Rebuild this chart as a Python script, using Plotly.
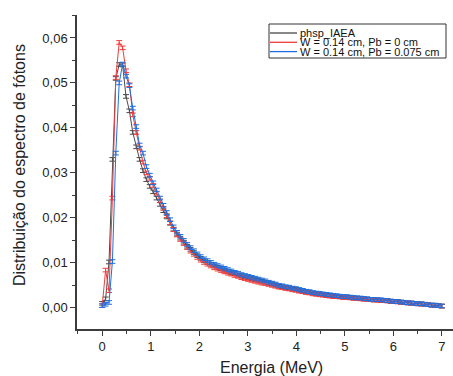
import plotly.graph_objects as go

# Energy bins (MeV)
energia = [0.00, 0.07, 0.14, 0.21, 0.28, 0.35, 0.42, 0.49, 0.56, 0.63,
           0.70, 0.77, 0.84, 0.91, 0.98, 1.05, 1.12, 1.19, 1.26, 1.33,
           1.40, 1.47, 1.54, 1.61, 1.68, 1.75, 1.82, 1.89, 1.96, 2.03,
           2.10, 2.17, 2.24, 2.31, 2.38, 2.45, 2.52, 2.59, 2.66, 2.73,
           2.80, 2.87, 2.94, 3.01, 3.08, 3.15, 3.22, 3.29, 3.36, 3.43,
           3.50, 3.57, 3.64, 3.71, 3.78, 3.85, 3.92, 3.99, 4.06, 4.13,
           4.20, 4.27, 4.34, 4.41, 4.48, 4.55, 4.62, 4.69, 4.76, 4.83,
           4.90, 4.97, 5.04, 5.11, 5.18, 5.25, 5.32, 5.39, 5.46, 5.53,
           5.60, 5.67, 5.74, 5.81, 5.88, 5.95, 6.02, 6.09, 6.16, 6.23,
           6.30, 6.37, 6.44, 6.51, 6.58, 6.65, 6.72, 6.79, 6.86, 6.93,
           7.00]

phsp_iaea = [0.0010, 0.0020, 0.0102, 0.0330, 0.0510, 0.0541, 0.0540, 0.0470, 0.0438, 0.0390,
             0.0358, 0.0330, 0.0305, 0.0285, 0.0270, 0.0258, 0.0244, 0.0230, 0.0216, 0.0202,
             0.0188, 0.0175, 0.0164, 0.0155, 0.0146, 0.0137, 0.0130, 0.0123, 0.0116, 0.0110,
             0.0105, 0.0101, 0.0097, 0.0093, 0.0090, 0.0087, 0.0084, 0.0081, 0.0078, 0.0076,
             0.0073, 0.0071, 0.0069, 0.0067, 0.0065, 0.0063, 0.0061, 0.0059, 0.0057, 0.0055,
             0.0053, 0.0051, 0.0048, 0.0047, 0.0045, 0.0044, 0.0042, 0.0041, 0.0039, 0.0038,
             0.0036, 0.0035, 0.0033, 0.0032, 0.0031, 0.0030, 0.0029, 0.0028, 0.0027, 0.0026,
             0.0025, 0.0024, 0.0024, 0.0023, 0.0022, 0.0022, 0.0021, 0.0020, 0.0020, 0.0019,
             0.0018, 0.0018, 0.0017, 0.0016, 0.0016, 0.0015, 0.0014, 0.0014, 0.0013, 0.0012,
             0.0011, 0.0011, 0.0010, 0.0009, 0.0009, 0.0008, 0.0007, 0.0006, 0.0006, 0.0005,
             0.0004]

w_pb0 = [0.0005, 0.0084, 0.0038, 0.0244, 0.0512, 0.0590, 0.0578, 0.0527, 0.0496, 0.0429,
         0.0390, 0.0355, 0.0324, 0.0300, 0.0288, 0.0272, 0.0255, 0.0238, 0.0221, 0.0205,
         0.0189, 0.0174, 0.0162, 0.0152, 0.0143, 0.0134, 0.0126, 0.0119, 0.0112, 0.0106,
         0.0101, 0.0097, 0.0093, 0.0089, 0.0086, 0.0083, 0.0080, 0.0077, 0.0075, 0.0072,
         0.0070, 0.0067, 0.0065, 0.0063, 0.0061, 0.0059, 0.0057, 0.0055, 0.0054, 0.0052,
         0.0050, 0.0048, 0.0046, 0.0045, 0.0043, 0.0042, 0.0040, 0.0039, 0.0037, 0.0036,
         0.0034, 0.0033, 0.0031, 0.0030, 0.0029, 0.0028, 0.0027, 0.0026, 0.0025, 0.0025,
         0.0024, 0.0023, 0.0023, 0.0022, 0.0021, 0.0021, 0.0020, 0.0019, 0.0019, 0.0018,
         0.0017, 0.0017, 0.0016, 0.0016, 0.0015, 0.0014, 0.0014, 0.0013, 0.0012, 0.0012,
         0.0011, 0.0010, 0.0010, 0.0009, 0.0008, 0.0008, 0.0007, 0.0006, 0.0005, 0.0005,
         0.0004]

w_pb0075 = [0.0005, 0.0008, 0.0012, 0.0103, 0.0344, 0.0500, 0.0542, 0.0515, 0.0494, 0.0444,
            0.0403, 0.0362, 0.0344, 0.0314, 0.0295, 0.0278, 0.0262, 0.0244, 0.0228, 0.0212,
            0.0196, 0.0180, 0.0168, 0.0159, 0.0150, 0.0141, 0.0134, 0.0127, 0.0120, 0.0114,
            0.0109, 0.0105, 0.0101, 0.0097, 0.0094, 0.0091, 0.0088, 0.0085, 0.0082, 0.0079,
            0.0077, 0.0074, 0.0072, 0.0070, 0.0068, 0.0066, 0.0064, 0.0062, 0.0060, 0.0057,
            0.0055, 0.0053, 0.0050, 0.0049, 0.0047, 0.0046, 0.0044, 0.0043, 0.0041, 0.0039,
            0.0037, 0.0036, 0.0034, 0.0033, 0.0032, 0.0031, 0.0030, 0.0029, 0.0028, 0.0027,
            0.0026, 0.0025, 0.0025, 0.0024, 0.0023, 0.0022, 0.0022, 0.0021, 0.0020, 0.0019,
            0.0019, 0.0018, 0.0018, 0.0017, 0.0016, 0.0015, 0.0014, 0.0014, 0.0013, 0.0012,
            0.0011, 0.0011, 0.0010, 0.0009, 0.0009, 0.0008, 0.0007, 0.0006, 0.0006, 0.0005,
            0.0004]

erro = 0.0004  # error bar half-size

series_names = ["phsp_IAEA", "W = 0.14 cm, Pb = 0 cm", "W = 0.14 cm, Pb = 0.075 cm"]
series_vals = [phsp_iaea, w_pb0, w_pb0075]
series_colors = ["#4a4a4a", "#F03C3C", "#1F6FE0"]

x_title = "Energia (MeV)"
y_title = "Distribuição do espectro de fótons"

FONT = "Liberation Sans, Arial, sans-serif"
W, H = 453, 376
ML, MR, MT, MB = 77, 0, 15, 47
PW, PH = W - ML - MR, H - MT - MB

def px(x):
    return (x - ML) / PW

def py(y):
    return (H - MB - y) / PH

fig = go.Figure()
for name, vals, col in zip(series_names, series_vals, series_colors):
    fig.add_trace(go.Scatter(
        x=energia, y=vals, name=name, mode="lines",
        line=dict(color=col, width=1),
        error_y=dict(type="constant", value=erro, color=col, thickness=1, width=3),
        showlegend=False,
    ))

axis_col = "#3c3c3c"
fig.update_xaxes(
    range=[-0.52, 7.23], tickmode="linear", tick0=0, dtick=1, automargin=False,
    ticks="outside", ticklen=5, tickwidth=1.2, tickcolor=axis_col,
    showline=True, linecolor=axis_col, linewidth=1.5, showgrid=False, zeroline=False,
    minor=dict(tick0=0, dtick=0.5, ticks="outside", ticklen=3, tickcolor=axis_col, tickwidth=1.2),
    tickfont=dict(family=FONT, size=13, color="#222"),
)
fig.update_yaxes(
    range=[-0.0047, 0.0651], tickmode="linear", tick0=0, dtick=0.01, tickformat=".2f",
    automargin=False,
    ticks="outside", ticklen=5, tickwidth=1.2, tickcolor=axis_col,
    showline=True, linecolor=axis_col, linewidth=1.5, showgrid=False, zeroline=False,
    minor=dict(tick0=0, dtick=0.005, ticks="outside", ticklen=3, tickcolor=axis_col, tickwidth=1.2),
    tickfont=dict(family=FONT, size=13, color="#222"),
)

# compact legend box (Origin style)
shapes = [dict(type="rect", xref="paper", yref="paper",
               x0=px(269), x1=px(446), y0=py(58), y1=py(24),
               line=dict(color="#333", width=1), fillcolor="white", layer="above")]
annotations = []
rows = [33.0, 42.3, 51.6]
for name, col, ry in zip(series_names, series_colors, rows):
    shapes.append(dict(type="line", xref="paper", yref="paper",
                       x0=px(270), x1=px(297), y0=py(ry), y1=py(ry),
                       line=dict(color=col, width=1.3), layer="above"))
    annotations.append(dict(xref="paper", yref="paper", x=px(299), y=py(ry),
                            text=name, showarrow=False, xanchor="left", yanchor="middle",
                            font=dict(family=FONT, size=11, color="#111"),
                            borderpad=0))

# axis titles
annotations.append(dict(xref="paper", yref="paper", x=px(271), y=py(367),
                        text=x_title, showarrow=False, xanchor="center", yanchor="middle",
                        font=dict(family=FONT, size=16, color="#222")))
annotations.append(dict(xref="paper", yref="paper", x=px(19), y=py(165),
                        text=y_title, showarrow=False, xanchor="center", yanchor="middle",
                        textangle=-90, font=dict(family=FONT, size=16, color="#222")))

fig.update_layout(
    width=W, height=H, margin=dict(l=ML, r=MR, t=MT, b=MB, autoexpand=False),
    paper_bgcolor="white", plot_bgcolor="white",
    separators=",.", shapes=shapes, annotations=annotations,
    font=dict(family=FONT),
)
fig.write_html("out.html", config={"displayModeBar": False},
               post_script="document.body.style.margin='0';document.body.style.overflow='hidden';")
